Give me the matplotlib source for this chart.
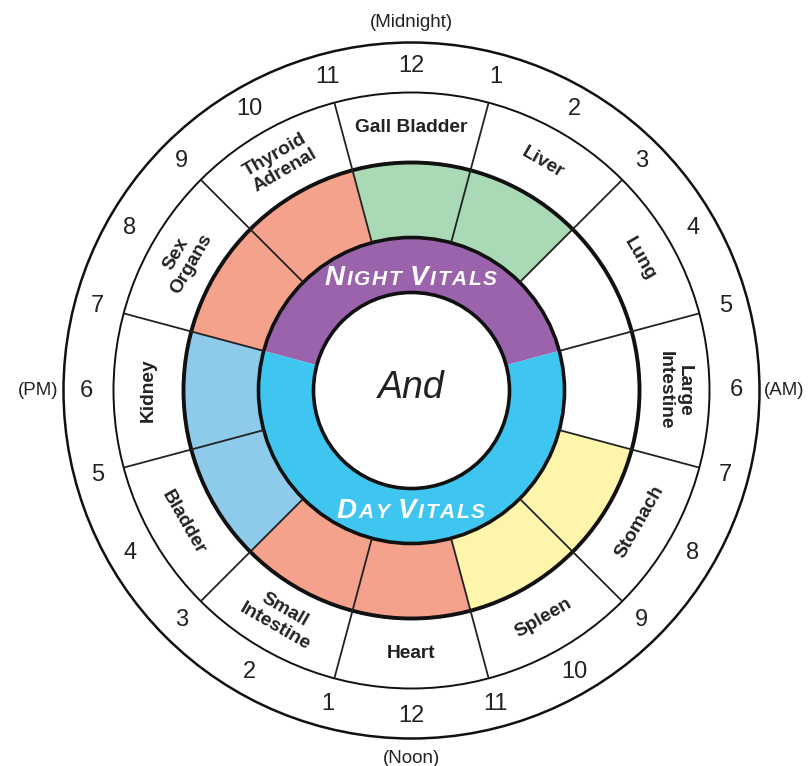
import numpy as np
import matplotlib
matplotlib.use("Agg")
import matplotlib.pyplot as plt
from matplotlib.patches import Wedge, Circle

plt.rcParams["font.family"] = ["Liberation Sans", "DejaVu Sans"]

# organ clock data, clockwise from midnight (each organ spans two hours)
ORGANS = ["Gall Bladder", "Liver", "Lung", "Large\nIntestine", "Stomach", "Spleen",
          "Heart", "Small\nIntestine", "Bladder", "Kidney", "Sex\nOrgans", "Thyroid\nAdrenal"]
ORGAN_COLORS = ["#a9dab5", "#a9dab5", "white", "white", "#fdf6aa", "#fdf6aa",
                "#f5a28c", "#f5a28c", "#8ecaea", "#8ecaea", "#f5a28c", "#f5a28c"]
HOURS = [12, 1, 2, 3, 4, 5, 6, 7, 8, 9, 10, 11] * 2
PERIODS = ["(Midnight)", "(AM)", "(Noon)", "(PM)"]
# vitals: (first capital, rest) per word, start/end hour on the 24h dial
NIGHT_WORDS = [("N", "IGHT"), ("V", "ITALS")]
DAY_WORDS = [("D", "AY"), ("V", "ITALS")]
NIGHT_SPAN = (19, 5)
CENTER_TEXT = "And"

W, H = 808, 766
CX, CY = 411.5, H - 390.5
R_OUT, R_ORG, R_BAND, R_VIT, R_IN = 348, 298, 228, 153, 98
INK = "#222222"


def clock_xy(theta, r):
    t = np.deg2rad(theta)
    return CX + r * np.sin(t), CY + r * np.cos(t)


def small_caps(ax, fig, x, y, words, big, small, track=1.6, gap=7):
    # fake small caps: draw char by char so the sizes and tracking can be set
    renderer = fig.canvas.get_renderer()
    chars = []
    for k, (cap, rest) in enumerate(words):
        if k > 0:
            chars.append((None, gap))
        chars.append((cap, big))
        for c in rest:
            chars.append((c, small))
    arts = []
    total = 0.0
    for c, size in chars:
        if c is None:
            arts.append((None, size))
            total += size
            continue
        t = ax.text(0, 0, c, fontsize=size, fontweight="bold", style="italic",
                    color="white", va="baseline", ha="left")
        w = t.get_window_extent(renderer).width + track
        arts.append((t, w))
        total += w
    cur = x - total / 2
    for t, w in arts:
        if t is not None:
            t.set_position((cur, y))
        cur += w


fig = plt.figure(figsize=(W / 100, H / 100), dpi=100)
ax = fig.add_axes([0, 0, 1, 1])
ax.set_xlim(0, W)
ax.set_ylim(0, H)
ax.axis("off")

# colored organ band
for i, col in enumerate(ORGAN_COLORS):
    th = 30 * i
    ax.add_patch(Wedge((CX, CY), R_BAND, 90 - th - 15, 90 - th + 15,
                       width=R_BAND - R_VIT, facecolor=col, edgecolor="none"))

# night / day ring
n0 = 15 * NIGHT_SPAN[0]
n1 = 15 * NIGHT_SPAN[1]
ax.add_patch(Wedge((CX, CY), R_VIT, 90 - n1, 90 - n0 + 360,
                   width=R_VIT - R_IN, facecolor="#9a63ab", edgecolor="none"))
ax.add_patch(Wedge((CX, CY), R_VIT, 90 - n0 + 360, 90 - n1 + 360,
                   width=R_VIT - R_IN, facecolor="#3ec6f0", edgecolor="none"))

# radial separators
for i in range(12):
    th = 30 * i + 15
    x0, y0 = clock_xy(th, R_VIT)
    x1, y1 = clock_xy(th, R_ORG)
    ax.plot([x0, x1], [y0, y1], color=INK, lw=1.3, solid_capstyle="butt")

# circles
for r, lw in [(R_OUT, 1.8), (R_ORG, 1.4), (R_BAND, 2.8), (R_VIT, 2.6), (R_IN, 2.6)]:
    ax.add_patch(Circle((CX, CY), r, facecolor="none", edgecolor="#111111", lw=lw))

# organ labels
for i, name in enumerate(ORGANS):
    th = 30 * i
    x, y = clock_xy(th, (R_BAND + R_ORG) / 2)
    rot = -th if (th <= 90 or th >= 270) else 180 - th
    ax.text(x, y, name, rotation=rot, rotation_mode="anchor", ha="center", va="center",
            multialignment="center", fontsize=13.8, fontweight="bold", color=INK,
            linespacing=1.12)

# hour numbers
for k, h in enumerate(HOURS):
    x, y = clock_xy(15 * k, 325)
    ax.text(x, y, str(h), ha="center", va="center", fontsize=17, color=INK)

# period labels
for k, lab in enumerate(PERIODS):
    r = 368 if k % 2 == 0 else 373
    x, y = clock_xy(90 * k, r)
    ax.text(x, y, lab, ha="center", va="center", fontsize=13.5, color=INK)

ax.text(CX, CY + 3, CENTER_TEXT, ha="center", va="center", fontsize=27,
        style="italic", color=INK)

small_caps(ax, fig, CX, H - 285, NIGHT_WORDS, 20, 15)
small_caps(ax, fig, CX, H - 518, DAY_WORDS, 20, 15)

fig.savefig("out.png", dpi=100)
